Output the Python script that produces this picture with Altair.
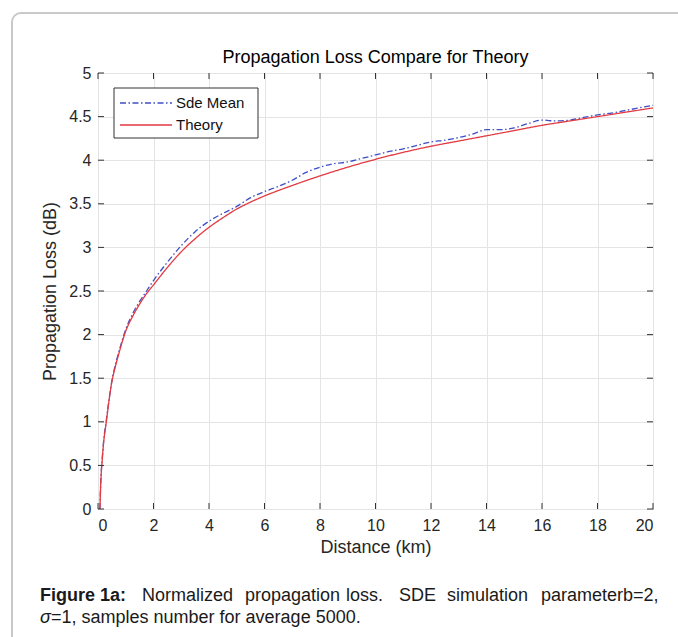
import altair as alt
import pandas as pd

# ---- data ----
dist_theory = [0.07, 0.1, 0.15, 0.2, 0.3, 0.4, 0.5, 0.6, 0.75, 1.0, 1.25, 1.5, 1.75,
               2.0, 2.5, 3.0, 3.5, 4.0, 4.5, 5.0, 5.5, 6.0, 7.0, 8.0, 9.0, 10.0,
               11.0, 12.0, 13.0, 14.0, 15.0, 16.0, 17.0, 18.0, 19.0, 20.0]
loss_theory = [0.0, 0.3, 0.55, 0.75, 1.0, 1.25, 1.46, 1.6, 1.78, 2.04, 2.21, 2.35, 2.47,
               2.57, 2.77, 2.95, 3.1, 3.23, 3.34, 3.44, 3.52, 3.59, 3.71, 3.82, 3.92, 4.01,
               4.09, 4.16, 4.22, 4.28, 4.34, 4.40, 4.45, 4.50, 4.55, 4.60]

dist_sde = [0.07, 0.1, 0.15, 0.2, 0.3, 0.4, 0.5, 0.6, 0.75, 1.0, 1.25, 1.5, 1.75,
            2.0, 2.5, 3.0, 3.5, 4.0, 4.5, 5.0, 5.5, 6.0, 6.5, 7.0, 7.5, 8.0, 8.5,
            9.0, 9.5, 10.0, 10.5, 11.0, 11.5, 12.0, 12.5, 13.0, 13.5, 14.0, 14.5,
            15.0, 15.5, 16.0, 16.5, 17.0, 17.5, 18.0, 18.5, 19.0, 19.5, 20.0]
loss_sde = [0.0, 0.32, 0.57, 0.77, 1.02, 1.26, 1.47, 1.62, 1.8, 2.06, 2.24, 2.38, 2.5,
            2.62, 2.83, 3.02, 3.18, 3.30, 3.39, 3.47, 3.57, 3.64, 3.70, 3.77, 3.86, 3.92, 3.96,
            3.98, 4.02, 4.06, 4.10, 4.13, 4.17, 4.21, 4.23, 4.26, 4.30, 4.35, 4.35,
            4.37, 4.42, 4.46, 4.45, 4.46, 4.49, 4.52, 4.54, 4.57, 4.60, 4.63]

series_names = ["Sde Mean", "Theory"]
series_colors = ["#3f4fc6", "#e23a42"]
series_dash = [[6, 2.5, 1.5, 2.5], [1, 0]]

x_ticks = [0, 2, 4, 6, 8, 10, 12, 14, 16, 18, 20]
y_ticks = [0, 0.5, 1, 1.5, 2, 2.5, 3, 3.5, 4, 4.5, 5]

title_text = "Propagation Loss Compare for Theory"
x_title = "Distance (km)"
y_title = "Propagation Loss (dB)"

caption_line1_words = ["Figure 1a:", "Normalized", "propagation", "loss.", "SDE",
                       "simulation", "parameterb=2,"]
caption_line1_bold = [True, False, False, False, False, False, False]
caption_line1_pos = [40, 142, 245, 346, 399, 447, 541]
caption_line2 = ["\u03c3", "=1, samples number for average 5000."]
caption_line2_italic = [True, False]
caption_line2_pos = [40, 51]

FONT = "Liberation Sans"
W, H = 555, 436
PX, PY = 98, 73  # plot origin on page

# ---- tables ----
lines_df = pd.concat([
    pd.DataFrame({"x": dist_sde, "y": loss_sde, "series": series_names[0]}),
    pd.DataFrame({"x": dist_theory, "y": loss_theory, "series": series_names[1]}),
])
xt_df = pd.DataFrame({"x": x_ticks})
yt_df = pd.DataFrame({"y": y_ticks})
one = pd.DataFrame({"a": [0]})

xs = alt.Scale(domain=[0, 20], nice=False, zero=False)
ys = alt.Scale(domain=[0, 5], nice=False, zero=False)
x_axis = alt.Axis(values=x_ticks, format="d", labelPadding=8, titlePadding=5)
y_axis = alt.Axis(values=y_ticks, format="~g", labelPadding=7, titlePadding=9)


def X(field):
    return alt.X(field, scale=xs, title=x_title, axis=x_axis)


def Y(field):
    return alt.Y(field, scale=ys, title=y_title, axis=y_axis)


# outer rounded frame
frame = alt.Chart(one).mark_rect(
    fillOpacity=0, stroke="#c9c9c9", strokeWidth=2, cornerRadius=9
).encode(x=alt.value(12 - PX), x2=alt.value(720 - PX),
         y=alt.value(13 - PY), y2=alt.value(780 - PY))

title = alt.Chart(pd.DataFrame({"t": [title_text]})).mark_text(
    align="center", baseline="middle", font=FONT, fontSize=18, color="#000000"
).encode(text="t:N", x=alt.value(W / 2), y=alt.value(58 - PY))

lines = alt.Chart(lines_df).mark_line(strokeWidth=1.3, clip=True,
                                      interpolate="monotone").encode(
    x=X("x:Q"),
    y=Y("y:Q"),
    color=alt.Color("series:N", scale=alt.Scale(domain=series_names, range=series_colors),
                    legend=None),
    strokeDash=alt.StrokeDash("series:N",
                              scale=alt.Scale(domain=series_names, range=series_dash),
                              legend=None),
)

tick_col = "#333333"
tb = alt.Chart(xt_df).mark_rule(color=tick_col).encode(
    x=X("x:Q"), y=alt.value(H), y2=alt.value(H - 6))
tt = alt.Chart(xt_df).mark_rule(color=tick_col).encode(
    x=X("x:Q"), y=alt.value(0), y2=alt.value(6))
tl = alt.Chart(yt_df).mark_rule(color=tick_col).encode(
    y=Y("y:Q"), x=alt.value(0), x2=alt.value(6))
tr = alt.Chart(yt_df).mark_rule(color=tick_col).encode(
    y=Y("y:Q"), x=alt.value(W), x2=alt.value(W - 6))

# legend box (inside, top-left)
leg_box = alt.Chart(one).mark_rect(fill="white", stroke="#333333", strokeWidth=1).encode(
    x=alt.value(114 - PX), x2=alt.value(258 - PX),
    y=alt.value(88 - PY), y2=alt.value(138 - PY))
leg_items = []
for i, name in enumerate(series_names):
    yy = 103 - PY + i * 22
    leg_items.append(alt.Chart(one).mark_rule(
        color=series_colors[i], strokeDash=series_dash[i], strokeWidth=1.3
    ).encode(x=alt.value(120 - PX), x2=alt.value(172 - PX), y=alt.value(yy)))
    leg_items.append(alt.Chart(pd.DataFrame({"t": [name]})).mark_text(
        align="left", baseline="middle", font=FONT, fontSize=15, color="#111111"
    ).encode(text="t:N", x=alt.value(176 - PX), y=alt.value(yy)))

# caption
cap_layers = []
for w, b, p in zip(caption_line1_words, caption_line1_bold, caption_line1_pos):
    cap_layers.append(alt.Chart(pd.DataFrame({"t": [w]})).mark_text(
        align="left", baseline="alphabetic", font=FONT, fontSize=18,
        fontWeight="bold" if b else "normal", color="#1a1a1a"
    ).encode(text="t:N", x=alt.value(p - PX), y=alt.value(601 - PY)))
for w, it, p in zip(caption_line2, caption_line2_italic, caption_line2_pos):
    cap_layers.append(alt.Chart(pd.DataFrame({"t": [w]})).mark_text(
        align="left", baseline="alphabetic", font=FONT, fontSize=18,
        fontStyle="italic" if it else "normal", color="#1a1a1a"
    ).encode(text="t:N", x=alt.value(p - PX), y=alt.value(623 - PY)))

chart = alt.layer(
    frame, title, lines, tb, tt, tl, tr, leg_box, *leg_items, *cap_layers
).properties(
    width=W, height=H,
    background="white",
    autosize=alt.AutoSizeParams(type="none"),
    padding={"left": PX, "top": PY, "right": 678 - PX - W, "bottom": 637 - PY - H},
).configure_view(
    stroke="#262626", strokeWidth=1
).configure_axis(
    grid=True, gridColor="#e4e4e4", gridWidth=1, domain=False, ticks=False,
    labelFont=FONT, labelFontSize=16, labelColor="#262626",
    titleFont=FONT, titleFontSize=18, titleFontWeight="normal", titleColor="#262626",
)

chart.save("out.html", embed_options={"renderer": "svg", "actions": False})
